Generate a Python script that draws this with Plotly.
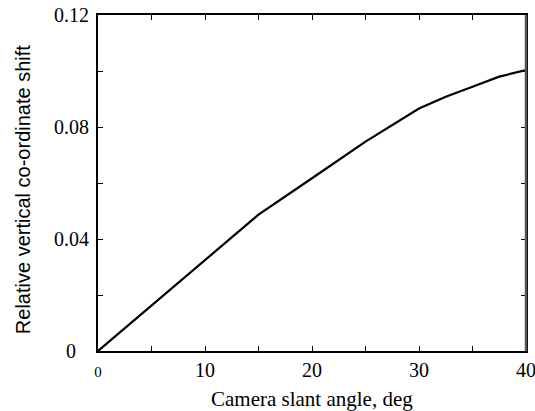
import plotly.graph_objects as go

# Relative vertical co-ordinate shift vs. camera slant angle
slant_angle_deg = [0, 5, 10, 15, 20, 22.5, 25, 30, 32.5, 35, 37.5, 40]
vertical_shift = [0.0, 0.0163, 0.0325, 0.0487, 0.0617, 0.0682, 0.0748, 0.0866,
                  0.0908, 0.0944, 0.098, 0.1003]

x_tick_vals = [0, 10, 20, 30, 40]
x_tick_text = ["<span style='font-size:15px'>0</span>", "10", "20", "30", "40"]
y_tick_vals = [0, 0.04, 0.08, 0.12]
y_tick_text = ["0", "0.04", "0.08", "0.12"]

SERIF = "Liberation Serif, Times New Roman, serif"
SANS = "Liberation Sans, Arial, sans-serif"

fig = go.Figure()
fig.add_trace(go.Scatter(
    x=slant_angle_deg, y=vertical_shift, mode="lines",
    line=dict(color="black", width=2.2), showlegend=False,
))

axis_common = dict(
    showline=True, linecolor="black", linewidth=2,
    ticks="inside", ticklen=5, tickwidth=1, tickcolor="black",
    mirror="ticks", showgrid=False, zeroline=False, automargin=False,
)

fig.update_xaxes(
    range=[0, 40], tickvals=x_tick_vals, ticktext=x_tick_text,
    tickfont=dict(family=SERIF, size=20, color="black"),
    ticklabeloverflow="allow",
    minor=dict(dtick=5, ticks="inside", ticklen=5, tickwidth=1, tickcolor="black"),
    **axis_common,
)
fig.update_yaxes(
    range=[0, 0.12], tickvals=y_tick_vals, showticklabels=False,
    minor=dict(dtick=0.02, ticks="inside", ticklen=5, tickwidth=1, tickcolor="black"),
    **axis_common,
)

annotations = []
# y tick labels, centred in the left margin
for v, t in zip(y_tick_vals, y_tick_text):
    annotations.append(dict(
        x=-0.063, xref="paper", y=v, yref="y", text=t, showarrow=False,
        xanchor="center", yanchor="middle",
        font=dict(family=SERIF, size=20, color="black"),
    ))
# axis titles
annotations.append(dict(
    x=0.5, xref="paper", y=-0.143, yref="paper",
    text="Camera slant angle, deg", showarrow=False,
    xanchor="center", yanchor="middle",
    font=dict(family=SERIF, size=21, color="black"),
))
annotations.append(dict(
    x=-0.175, xref="paper", y=0.479, yref="paper",
    text="Relative vertical co-ordinate shift", showarrow=False, textangle=-90,
    xanchor="center", yanchor="middle",
    font=dict(family=SANS, size=20, color="black"),
))

fig.update_layout(
    width=535, height=411,
    margin=dict(l=98, r=9, t=15, b=60, pad=0),
    paper_bgcolor="white", plot_bgcolor="white",
    annotations=annotations,
    shapes=[dict(type="line", xref="paper", yref="paper", x0=1, x1=1, y0=0, y1=1,
                 line=dict(color="#555555", width=2.5), layer="above")],
)

fig.write_html("out.html")
